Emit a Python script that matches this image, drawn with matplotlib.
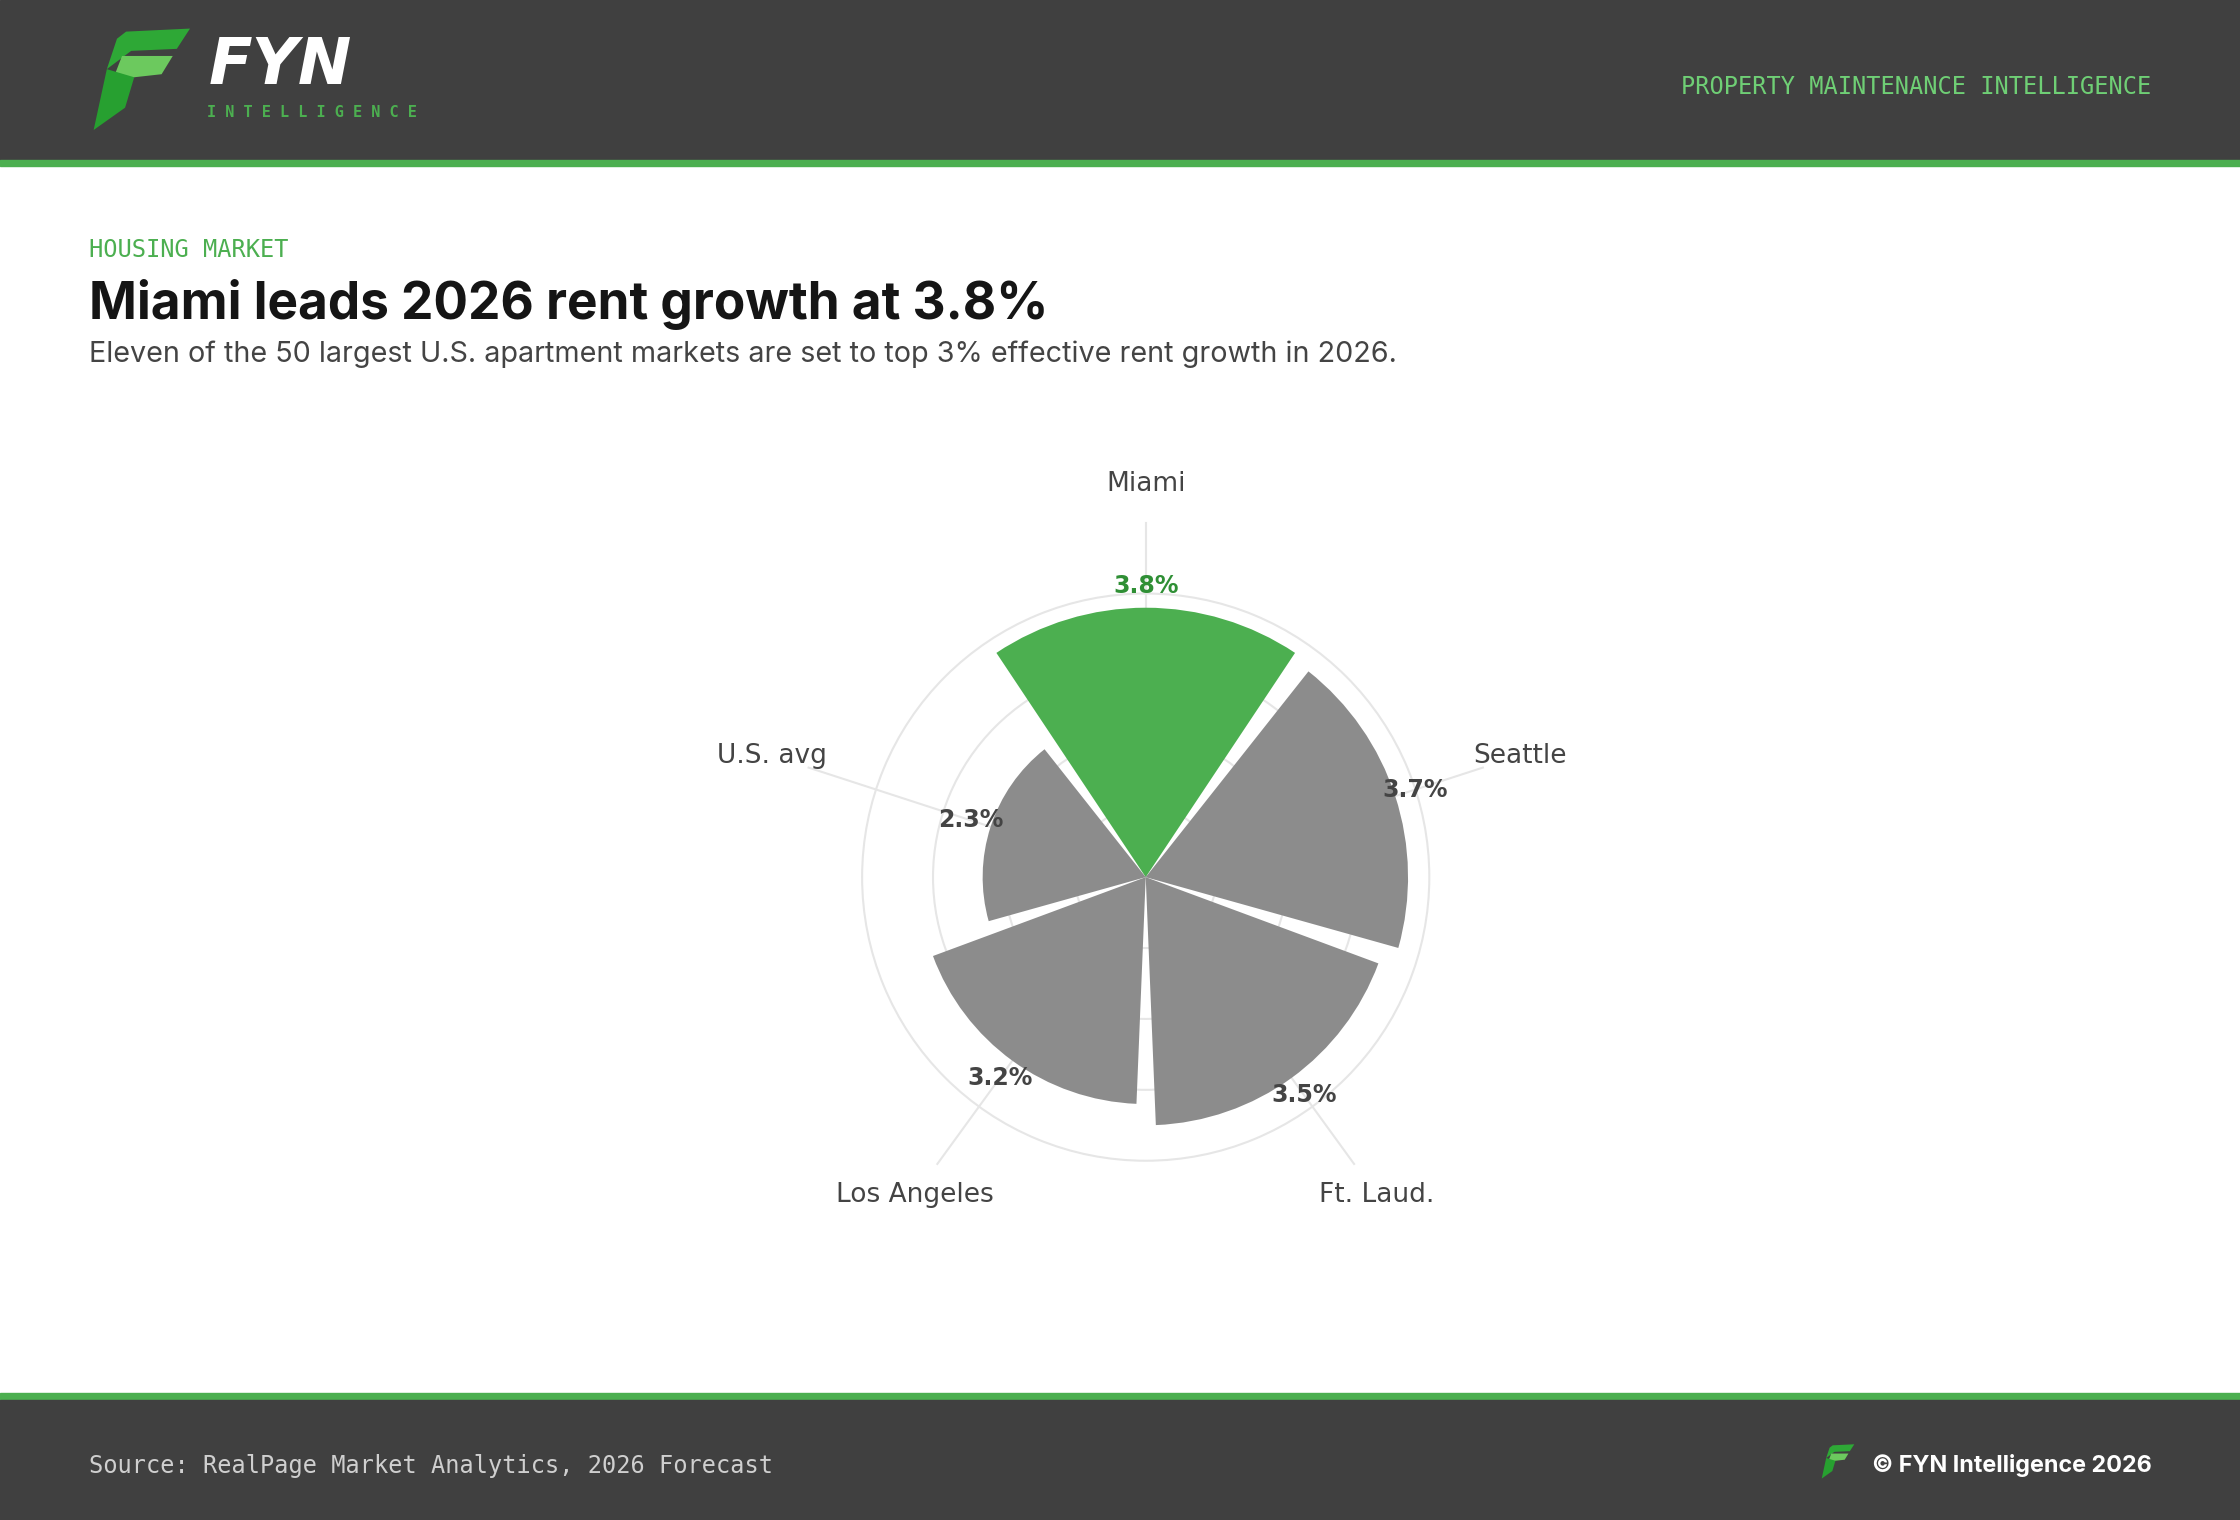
import matplotlib.pyplot as plt
from matplotlib.patches import Polygon, Rectangle
import numpy as np

# data
markets = ['Miami', 'Seattle', 'Ft. Laud.', 'Los Angeles', 'U.S. avg']
growth = [3.8, 3.7, 3.5, 3.2, 2.3]
highlight = 'Miami'

GREEN = '#4caf50'
DARK = '#404040'
GRAY = '#8c8c8c'

fig = plt.figure(figsize=(22.4, 15.2), dpi=100)
bg = fig.add_axes([0, 0, 1, 1])
# layout measured on a 1568 px wide view
bg.set_xlim(0, 1568)
bg.set_ylim(1064, 0)
bg.axis('off')

# header / footer bands
bg.add_patch(Rectangle((0, 0), 1568, 112, color=DARK))
bg.add_patch(Rectangle((0, 112), 1568, 4, color=GREEN))
bg.add_patch(Rectangle((0, 975), 1568, 5, color=GREEN))
bg.add_patch(Rectangle((0, 980), 1568, 84, color=DARK))


def logo(x0, y0, k):
    # F mark, shapes in a 0..100 box
    top = [(37, 3), (100, 0), (87, 20), (42, 22), (18, 40), (28, 10)]
    mid = [(33, 27), (83, 27), (72, 45), (45, 48), (28, 58), (26, 45)]
    stem = [(18, 40), (45, 48), (36, 78), (5, 100)]
    for pts, c in [(top, '#2ea836'), (mid, '#6cc95e'), (stem, '#27a030')]:
        bg.add_patch(Polygon([(x0 + px * k, y0 + py * k) for px, py in pts],
                             closed=True, color=c, lw=0))


logo(62, 20, 0.71)
bg.text(146, 46, 'FYN', color='white', fontsize=46, fontweight='bold',
        fontstyle='italic', family='DejaVu Sans', va='center', ha='left')
bg.text(145, 79, ' '.join('INTELLIGENCE'), color=GREEN, fontsize=11,
        fontweight='bold', family='DejaVu Sans Mono', va='center', ha='left')
bg.text(1506, 61, 'PROPERTY MAINTENANCE INTELLIGENCE', color='#6fcf75',
        fontsize=17, family='DejaVu Sans Mono', va='center', ha='right')

bg.text(62, 175, 'HOUSING MARKET', color=GREEN, fontsize=17,
        family='DejaVu Sans Mono', va='center')
bg.text(62, 213, 'Miami leads 2026 rent growth at 3.8%', color='#151515',
        fontsize=37, fontweight='bold', family='Inter', va='center')
bg.text(62, 248, 'Eleven of the 50 largest U.S. apartment markets are set to top 3% '
        'effective rent growth in 2026.', color='#444444', fontsize=20.7,
        family='Inter', va='center')

bg.text(62, 1026, 'Source: RealPage Market Analytics, 2026 Forecast', color='#cfcfcf',
        fontsize=17, family='DejaVu Sans Mono', va='center')
bg.text(1506, 1026, '\u00a9 FYN Intelligence 2026', color='white', fontsize=16.8,
        fontweight='bold', family='Inter', va='center', ha='right')
logo(1274, 1011, 0.24)

# polar chart
rmax = 4.05
cx, cy, rad = 802, 614, 201
ax = fig.add_axes([(cx - rad) / 1568, 1 - (cy + rad) / 1064, 2 * rad / 1568, 2 * rad / 1064],
                  projection='polar')
ax.set_theta_offset(np.pi / 2)
ax.set_theta_direction(-1)
ax.set_ylim(0, rmax)
ax.set_rgrids([1, 2, 3, 4], labels=[])
ax.set_xticks([])
ax.spines['polar'].set_visible(False)
ax.set_axisbelow(True)
ax.grid(True, color='#e6e6e6', lw=1.5)
ax.patch.set_alpha(0)

n = len(markets)
theta = np.arange(n) * 2 * np.pi / n
width = 2 * np.pi / n * 0.935
colors = [GREEN if m == highlight else GRAY for m in markets]
ax.bar(theta, growth, width=width, color=colors, lw=0, zorder=3)

for t, v, m in zip(theta, growth, markets):
    ax.plot([t, t], [0, 5.0], color='#e6e6e6', lw=1.5, zorder=1, clip_on=False)
    ax.text(t, 5.55, m, ha='center', va='center', fontsize=19, color='#444444',
            family='DejaVu Sans')
    ax.text(t, v + 0.3, f'{v}%', ha='center', va='center', fontsize=17,
            fontweight='bold', color='#2f8f35' if m == highlight else '#444444',
            zorder=5)

fig.savefig('out.png', dpi=100)
